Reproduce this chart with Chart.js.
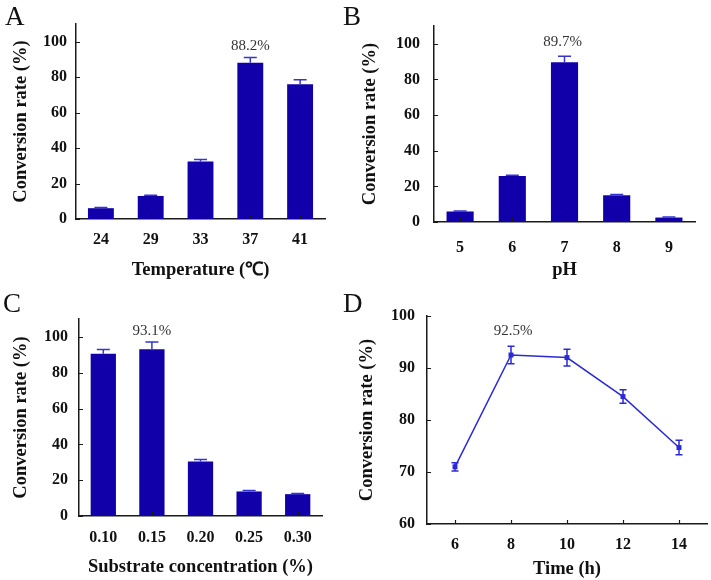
<!DOCTYPE html>
<html>
<head>
<meta charset="utf-8">
<script src="https://cdn.jsdelivr.net/npm/chart.js@4/dist/chart.umd.min.js"></script>
<style>
  body { margin: 0; background: #fff; }
  #wrap { position: relative; width: 711px; height: 580px; overflow: hidden; }
  canvas { position: absolute; }
  .letter { position: absolute; font-family: 'Liberation Serif', serif; font-size: 27px; color: #111; line-height: 1; }
</style>
</head>
<body>
<div id="wrap">
  <canvas id="panelA" width="355" height="290" style="left:0;top:0"></canvas>
  <canvas id="panelB" width="356" height="290" style="left:355px;top:0"></canvas>
  <canvas id="panelC" width="355" height="290" style="left:0;top:290px"></canvas>
  <canvas id="panelD" width="356" height="290" style="left:355px;top:290px"></canvas>
  <div class="letter" style="left:5px;top:3px">A</div>
  <div class="letter" style="left:343px;top:3px">B</div>
  <div class="letter" style="left:3px;top:290px">C</div>
  <div class="letter" style="left:343px;top:290px">D</div>
</div>
<script>
// A - temperature
const tempLabels = ['24', '29', '33', '37', '41'];
const tempValues = [6.1, 13.0, 32.5, 88.2, 76.0];
const tempErrors = [0.4, 0.4, 1.0, 2.9, 2.5];

// B - pH
const phLabels = ['5', '6', '7', '8', '9'];
const phValues = [5.9, 25.8, 89.7, 15.0, 2.5];
const phErrors = [0.3, 0.5, 3.3, 0.4, 0.3];

// C - substrate concentration
const substrateLabels = ['0.10', '0.15', '0.20', '0.25', '0.30'];
const substrateValues = [90.6, 93.1, 30.5, 13.7, 12.2];
const substrateErrors = [2.3, 4.0, 1.1, 0.5, 0.3];

// D - time
const timeLabels = ['6', '8', '10', '12', '14'];
const timeValues = [71.0, 92.5, 92.0, 84.5, 74.7];
const timeErrors = [0.8, 1.7, 1.6, 1.3, 1.4];

const barColor = '#1100aa';
const errColor = '#3434d2';
const lineColor = '#2a2ad6';
const axisColor = '#1a1a1a';
const serif = "'Liberation Serif', 'Times New Roman', serif";

// error bars (bars: upper half only, line: both halves)
const errorBarPlugin = {
    id: 'errorBars',
    afterDatasetsDraw(chart, args, opts) {
        const ctx = chart.ctx;
        const y = chart.scales.y;
        const meta = chart.getDatasetMeta(0);
        const values = chart.data.datasets[0].data;
        ctx.save();
        ctx.strokeStyle = opts.color;
        ctx.lineWidth = 1.5;
        meta.data.forEach((el, i) => {
            const v = values[i];
            const e = opts.errors[i];
            const top = y.getPixelForValue(v + e);
            const bottom = opts.both ? y.getPixelForValue(v - e) : y.getPixelForValue(v);
            const half = opts.cap / 2;
            ctx.beginPath();
            ctx.moveTo(el.x, top);
            ctx.lineTo(el.x, bottom);
            ctx.moveTo(el.x - half, top);
            ctx.lineTo(el.x + half, top);
            if (opts.both) {
                ctx.moveTo(el.x - half, bottom);
                ctx.lineTo(el.x + half, bottom);
            }
            ctx.stroke();
        });
        ctx.restore();
    }
};

// small inward tick marks on both axes
const innerTicksPlugin = {
    id: 'innerTicks',
    afterDatasetsDraw(chart) {
        const ctx = chart.ctx;
        const area = chart.chartArea;
        const xs = chart.scales.x;
        const ys = chart.scales.y;
        ctx.save();
        ctx.strokeStyle = axisColor;
        ctx.lineWidth = 1.2;
        ctx.beginPath();
        xs.ticks.forEach((t, i) => {
            const px = Math.round(xs.getPixelForTick(i)) + 0.5;
            ctx.moveTo(px, area.bottom);
            ctx.lineTo(px, area.bottom - 4);
        });
        ys.ticks.forEach((t, i) => {
            const py = Math.round(ys.getPixelForTick(i)) + 0.5;
            ctx.moveTo(area.left, py);
            ctx.lineTo(area.left + 4, py);
        });
        ctx.stroke();
        ctx.restore();
    }
};

// value label above the highlighted point
const peakLabelPlugin = {
    id: 'peakLabel',
    afterDatasetsDraw(chart, args, opts) {
        const ctx = chart.ctx;
        const el = chart.getDatasetMeta(0).data[opts.index];
        const v = chart.data.datasets[0].data[opts.index];
        const py = chart.scales.y.getPixelForValue(v + opts.error) - opts.gap;
        ctx.save();
        ctx.font = '15px ' + serif;
        ctx.fillStyle = '#333';
        ctx.textAlign = 'center';
        ctx.textBaseline = 'middle';
        ctx.fillText(opts.text, el.x + (opts.dx || 0), py);
        ctx.restore();
    }
};

function makePanel(id, cfg) {
    const canvas = document.getElementById(id);
    const W = canvas.width, H = canvas.height;
    const isLine = cfg.type === 'line';
    const dataset = isLine ? {
        data: cfg.values,
        borderColor: lineColor,
        backgroundColor: lineColor,
        borderWidth: 1.5,
        pointStyle: 'rect',
        pointRadius: 3.5,
        pointBackgroundColor: lineColor,
        pointBorderWidth: 0,
        tension: 0
    } : {
        data: cfg.values,
        backgroundColor: barColor,
        borderWidth: 0,
        categoryPercentage: 1,
        barPercentage: 0.52
    };
    return new Chart(canvas, {
        type: cfg.type,
        data: { labels: cfg.labels, datasets: [dataset] },
        options: {
            responsive: false,
            animation: false,
            layout: { padding: { left: 0, top: cfg.area.top, right: W - cfg.area.right, bottom: 0 } },
            plugins: {
                legend: { display: false },
                tooltip: { enabled: false },
                errorBars: { errors: cfg.errors, both: isLine, cap: isLine ? 7 : 13, color: isLine ? lineColor : errColor },
                peakLabel: cfg.peak
            },
            scales: {
                x: {
                    offset: true,
                    grid: { display: false, drawTicks: false },
                    border: { display: true, color: axisColor, width: 1.5 },
                    ticks: { color: '#111', padding: cfg.xTickPad, font: { family: serif, size: 16, weight: 'bold' }, maxRotation: 0 },
                    title: { display: true, text: cfg.xTitle, color: '#111', padding: { top: 0, bottom: cfg.xTitlePad }, font: { family: serif, size: 18.5, weight: 'bold' } },
                    afterFit: s => { s.height = H - cfg.area.bottom; }
                },
                y: {
                    min: cfg.yMin,
                    max: cfg.yMax,
                    grid: { display: false, drawTicks: false },
                    border: { display: true, color: axisColor, width: 1.5 },
                    ticks: { stepSize: cfg.yStep, color: '#111', padding: cfg.yTickPad, font: { family: serif, size: 16, weight: 'bold' } },
                    afterBuildTicks: s => { s.ticks = s.ticks.filter(t => t.value <= cfg.yTop); },
                    title: { display: true, text: 'Conversion rate (%)', color: '#111', padding: { top: cfg.yTitlePad, bottom: 0 }, font: { family: serif, size: 18.5, weight: 'bold' } },
                    afterFit: s => { s.width = cfg.area.left; }
                }
            }
        },
        plugins: [errorBarPlugin, innerTicksPlugin, peakLabelPlugin]
    });
}

makePanel('panelA', {
    type: 'bar', labels: tempLabels, values: tempValues, errors: tempErrors,
    xTitle: 'Temperature (\u2103)', yMin: 0, yMax: 110, yTop: 100, yStep: 20,
    area: { left: 76, right: 325, top: 24, bottom: 219 },
    xTickPad: 11, xTitlePad: 9, yTickPad: 9, yTitlePad: 10,
    peak: { index: 3, error: tempErrors[3], text: '88.2%', gap: 11 }
});

makePanel('panelB', {
    type: 'bar', labels: phLabels, values: phValues, errors: phErrors,
    xTitle: 'pH', yMin: 0, yMax: 110, yTop: 100, yStep: 20,
    area: { left: 79, right: 340, top: 26, bottom: 222 },
    xTickPad: 16, xTitlePad: 9, yTickPad: 14, yTitlePad: 4,
    peak: { index: 2, error: phErrors[2], text: '89.7%', gap: 14, dx: -2 }
});

makePanel('panelC', {
    type: 'bar', labels: substrateLabels, values: substrateValues, errors: substrateErrors,
    xTitle: 'Substrate concentration (%)', yMin: 0, yMax: 110, yTop: 100, yStep: 20,
    area: { left: 79, right: 322, top: 29, bottom: 226 },
    xTickPad: 12, xTitlePad: 2, yTickPad: 11, yTitlePad: 10,
    peak: { index: 1, error: substrateErrors[1], text: '93.1%', gap: 11 }
});

makePanel('panelD', {
    type: 'line', labels: timeLabels, values: timeValues, errors: timeErrors,
    xTitle: 'Time (h)', yMin: 60, yMax: 100, yTop: 100, yStep: 10,
    area: { left: 72, right: 352, top: 26, bottom: 234 },
    xTickPad: 11, xTitlePad: 0, yTickPad: 12, yTitlePad: 1,
    peak: { index: 1, error: timeErrors[1], text: '92.5%', gap: 15, dx: 2 }
});
</script>
</body>
</html>
